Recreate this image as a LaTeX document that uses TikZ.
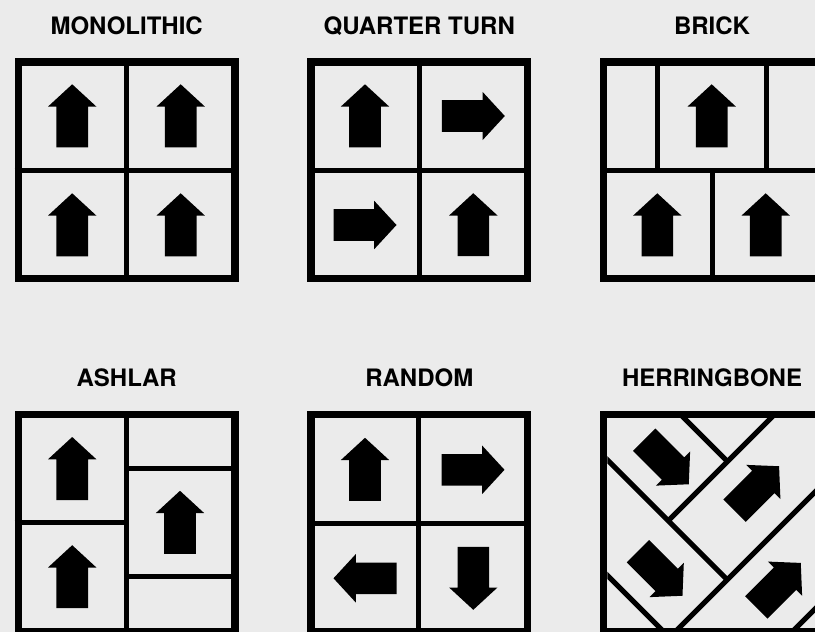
\documentclass[tikz,border=0pt]{standalone}
\usepackage{fontspec}
\setmainfont{TeX Gyre Heros}
\definecolor{paper}{HTML}{EBEBEB}
\tikzset{
  outerframe/.style={line width=7.3pt},
  joint/.style={line width=5pt},
  heading/.style={font=\fontsize{24}{28}\selectfont\bfseries,anchor=base},
}
\newcommand{\tilearrow}[3]{\fill[shift={(#1,#2)},rotate=#3] (31.5,0) -- (9.2,24.2) -- (9.2,15.8) -- (-31.5,15.8) -- (-31.5,-15.8) -- (9.2,-15.8) -- (9.2,-24.2) -- cycle;}

\begin{document}
\begin{tikzpicture}[x=1pt,y=-1pt]
\fill[paper] (0,0) rectangle (815,632);
\useasboundingbox (0,0) rectangle (815,632);
\node[heading] (monotitle) at (126.7,34.3) {MONOLITHIC};
\node[heading] (quartertitle) at (419.3,34.3) {QUARTER TURN};
\node[heading] (bricktitle) at (712,34.3) {BRICK};
\node[heading] (ashlartitle) at (126.7,386.7) {ASHLAR};
\node[heading] (randomtitle) at (419.3,386.7) {RANDOM};
\node[heading] (herringtitle) at (712,386.7) {HERRINGBONE};
\begin{scope}[shift={(14.7,58.3)}]
\draw[joint] (112,0) -- (112,224); \draw[joint] (0,112) -- (224,112);
\draw[outerframe] (3.65,3.65) rectangle (220.35,220.35);
\tilearrow{57.5}{57.5}{90} \tilearrow{166}{57.5}{90}
\tilearrow{57.5}{166.5}{90} \tilearrow{166}{166.5}{90}
\end{scope}
\begin{scope}[shift={(307.3,58.3)}]
\draw[joint] (112,0) -- (112,224); \draw[joint] (0,112) -- (224,112);
\draw[outerframe] (3.65,3.65) rectangle (220.35,220.35);
\tilearrow{57.7}{57.5}{90} \tilearrow{166}{57.7}{0}
\tilearrow{57.7}{166.7}{0} \tilearrow{166}{166.4}{90}
\end{scope}
\begin{scope}[shift={(600,58.3)}]
\draw[joint] (57.5,0) -- (57.5,112); \draw[joint] (166,0) -- (166,112);
\draw[joint] (112,112) -- (112,224); \draw[joint] (0,112) -- (224,112);
\draw[outerframe] (3.65,3.65) rectangle (220.35,220.35);
\tilearrow{111.7}{57.5}{90}
\tilearrow{57.3}{166.5}{90} \tilearrow{165.7}{166.5}{90}
\end{scope}
\begin{scope}[shift={(14.7,411)}]
\draw[joint] (112,0) -- (112,224); \draw[joint] (0,111.3) -- (112,111.3);
\draw[joint] (112,57.3) -- (224,57.3); \draw[joint] (112,165) -- (224,165);
\draw[outerframe] (3.65,3.65) rectangle (220.35,220.35);
\tilearrow{57.5}{57.5}{90} \tilearrow{57.5}{165.7}{90}
\tilearrow{165.3}{111.3}{90}
\end{scope}
\begin{scope}[shift={(307.3,411)}]
\draw[joint] (111.4,0) -- (111.4,224); \draw[joint] (0,112.3) -- (224,112.3);
\draw[outerframe] (3.65,3.65) rectangle (220.35,220.35);
\tilearrow{57.7}{58.3}{90} \tilearrow{165.7}{58.8}{0}
\tilearrow{57.7}{167.3}{180} \tilearrow{166}{167.3}{-90}
\end{scope}
\begin{scope}[shift={(600,411)}]
\begin{scope}
\clip (7.3,7.3) rectangle (216.7,216.7);
\draw[joint] (67,-10) -- (127.5,50.5);
\draw[joint] (188,-10) -- (68.25,109.75);
\draw[joint] (-10,31.5) -- (127.25,168.75);
\draw[joint] (70,226) -- (226,70);
\draw[joint] (-10,147) -- (80,237);
\draw[joint] (180,233) -- (233,180);
\end{scope}
\draw[outerframe] (3.65,3.65) rectangle (220.35,220.35);
\tilearrow{66.5}{51}{-45} \tilearrow{60.2}{162.5}{-45}
\tilearrow{156.8}{77.5}{45} \tilearrow{178.5}{174.2}{45}
\end{scope}
\end{tikzpicture}
\end{document}
